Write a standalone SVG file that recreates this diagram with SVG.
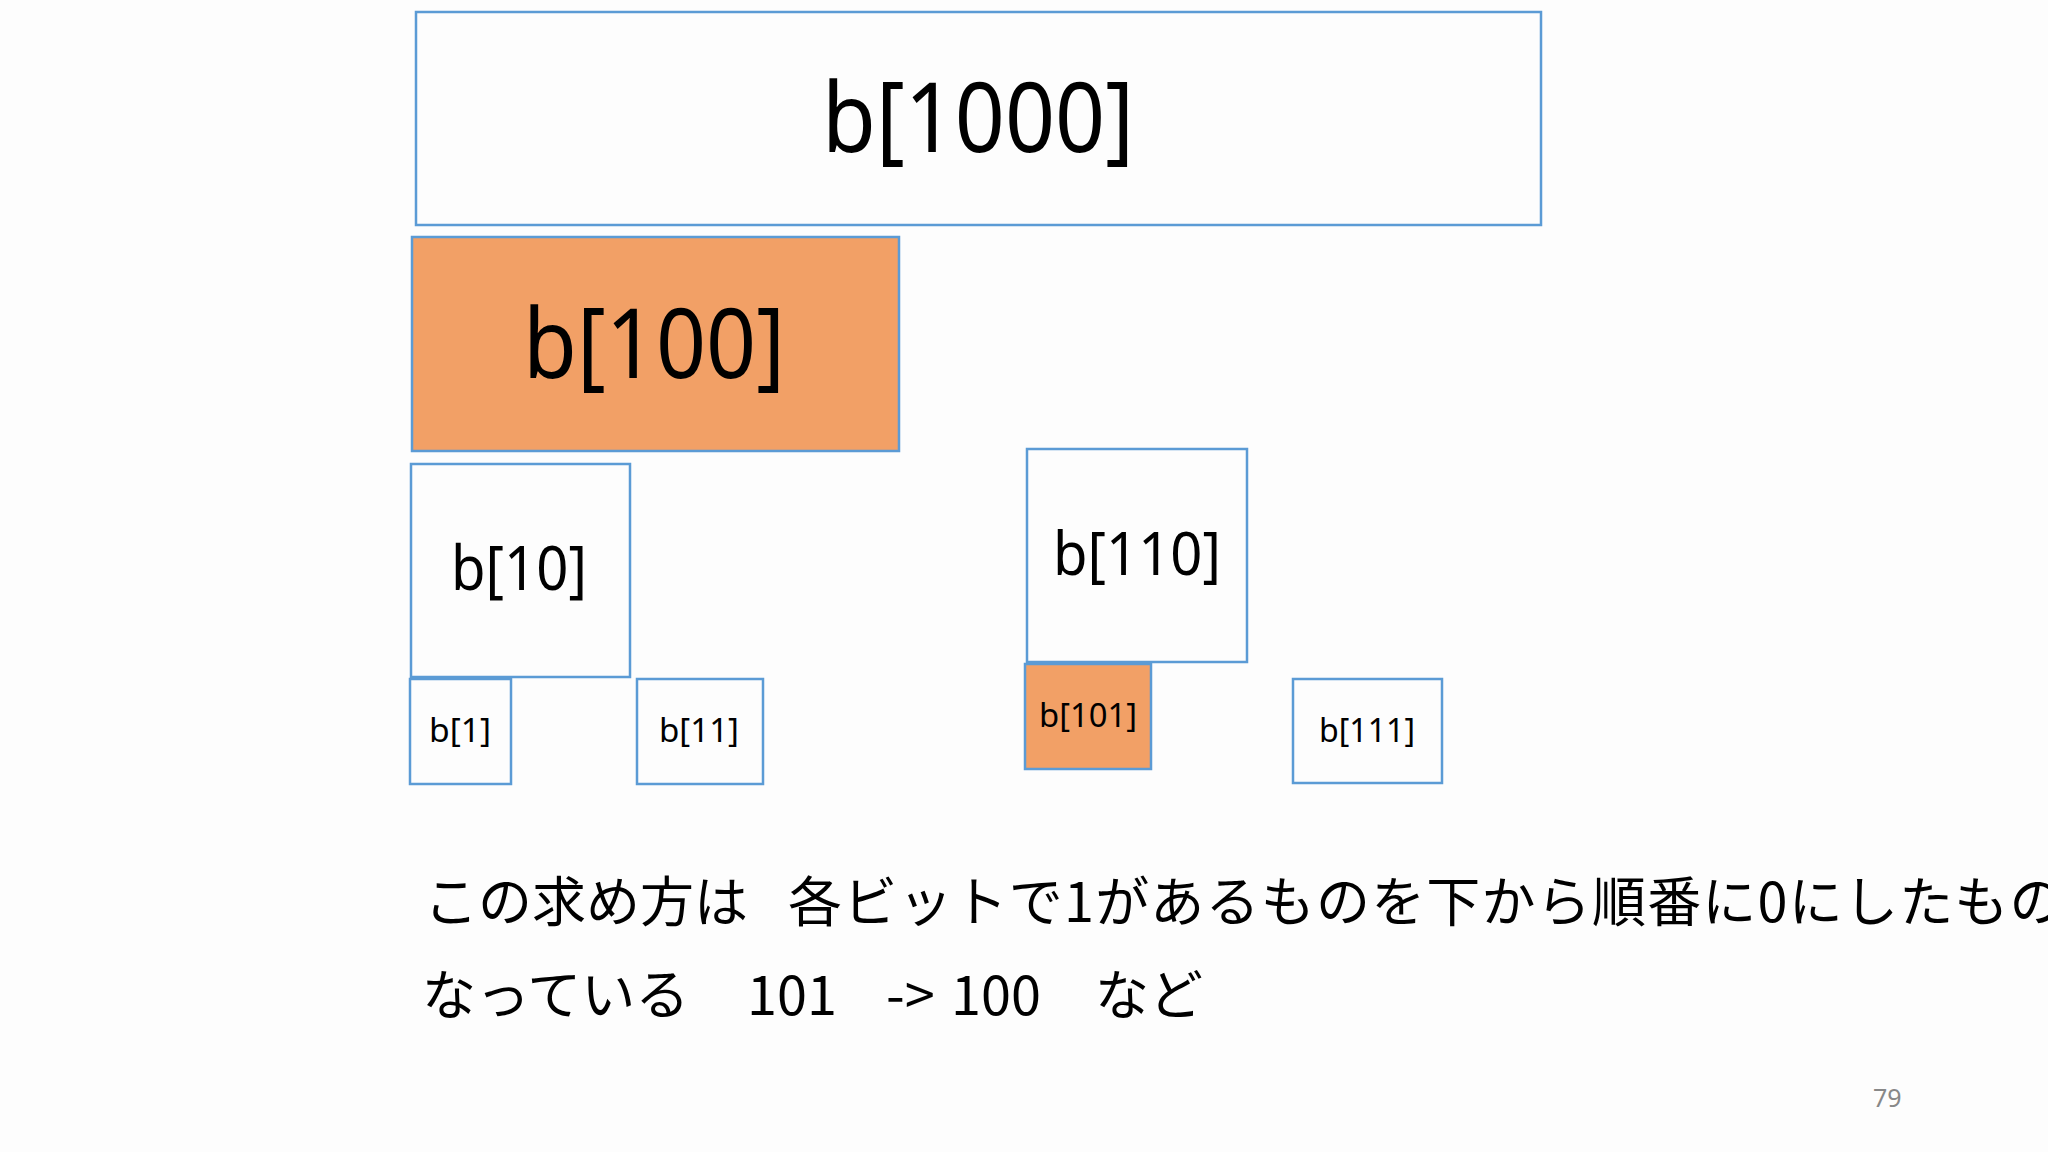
<svg xmlns="http://www.w3.org/2000/svg" width="2048" height="1152" viewBox="0 0 2048 1152">
<style>
.box{fill:#fdfdfd;stroke:#5b9bd5;stroke-width:2.5}
.hl{fill:#f2a066;stroke:#5b9bd5;stroke-width:2.5}
.lbl{font-family:"Noto Sans","Open Sans",sans-serif;fill:#000;text-anchor:middle}
.jp{font-family:"Noto Sans CJK JP","Noto Sans",sans-serif;font-size:54px;fill:#000}
.pg{font-family:"Noto Sans","Liberation Sans",sans-serif;font-size:25px;fill:#888}
</style>
<rect width="2048" height="1152" fill="#fdfdfd"/>
<g id="b1000"><rect class="box" x="416" y="12" width="1125" height="213"/><text class="lbl" x="978" y="152" font-size="97" textLength="312" lengthAdjust="spacingAndGlyphs">b[1000]</text></g>
<g id="b100"><rect class="hl" x="412" y="237" width="487" height="214"/><text class="lbl" x="654" y="378" font-size="97" textLength="262" lengthAdjust="spacingAndGlyphs">b[100]</text></g>
<g id="b10"><rect class="box" x="411" y="464" width="219" height="213"/><text class="lbl" x="519" y="590" font-size="62" textLength="136" lengthAdjust="spacingAndGlyphs">b[10]</text></g>
<g id="b110"><rect class="box" x="1027" y="449" width="220" height="213"/><text class="lbl" x="1137" y="575" font-size="60" textLength="168" lengthAdjust="spacingAndGlyphs">b[110]</text></g>
<g id="b1"><rect class="box" x="410" y="679" width="101" height="105"/><text class="lbl" x="460" y="742" font-size="33" textLength="62" lengthAdjust="spacingAndGlyphs">b[1]</text></g>
<g id="b11"><rect class="box" x="637" y="679" width="126" height="105"/><text class="lbl" x="699" y="742" font-size="33" textLength="80" lengthAdjust="spacingAndGlyphs">b[11]</text></g>
<g id="b101"><rect class="hl" x="1025" y="664" width="126" height="105"/><text class="lbl" x="1088" y="727" font-size="33" textLength="98" lengthAdjust="spacingAndGlyphs">b[101]</text></g>
<g id="b111"><rect class="box" x="1293" y="679" width="149" height="104"/><text class="lbl" x="1367" y="742" font-size="33" textLength="96" lengthAdjust="spacingAndGlyphs">b[111]</text></g>
<g id="connectors"></g>
<g id="caption">
<text class="jp" x="424" y="922">この求め方は</text>
<text class="jp" x="788" y="922" letter-spacing="1.2">各ビットで1があるものを下から順番に0にしたもの</text>
<text class="jp" x="422" y="1015">なっている</text>
<text class="jp" x="747" y="1015">101</text>
<text class="jp" x="886" y="1015">-&gt;</text>
<text class="jp" x="951" y="1015">100</text>
<text class="jp" x="1095" y="1015">など</text>
</g>
<text class="pg" x="1873" y="1107">79</text>
</svg>
